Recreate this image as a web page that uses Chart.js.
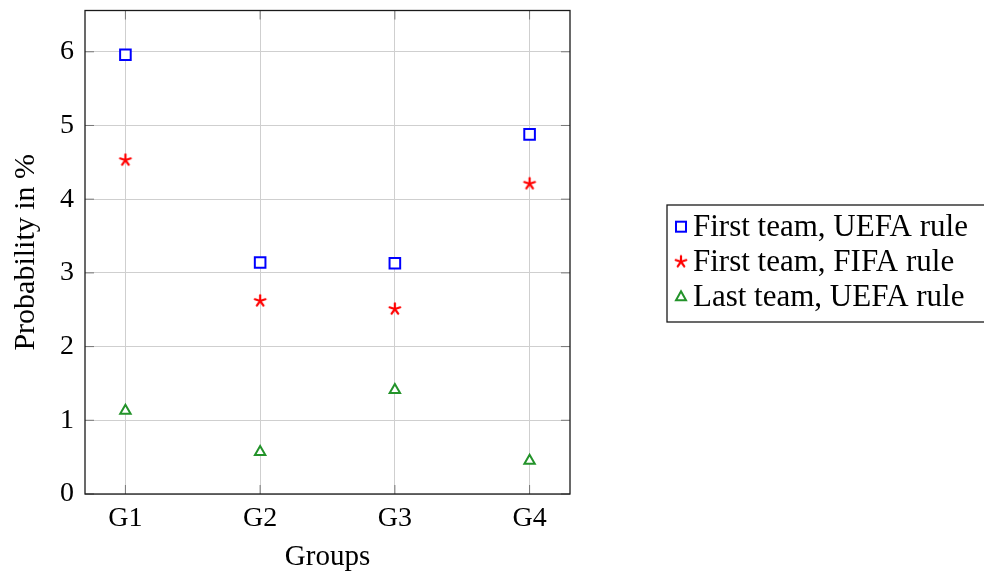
<!DOCTYPE html>
<html>
<head>
<meta charset="utf-8">
<script src="https://cdn.jsdelivr.net/npm/chart.js@4.4.0/dist/chart.umd.min.js"></script>
<style>
  html, body { margin: 0; padding: 0; background: #fff; }
  #wrap { width: 984px; height: 572px; position: relative; }
</style>
</head>
<body>
<div id="wrap"><canvas id="chart"></canvas></div>
<script>
// ---- data ----
const groups = ["G1", "G2", "G3", "G4"];
const xTicks = [1, 2, 3, 4];
const yTicks = [0, 1, 2, 3, 4, 5, 6];
const firstUefa = [5.96, 3.14, 3.13, 4.88];
const firstFifa = [4.53, 2.62, 2.51, 4.21];
const lastUefa = [1.13, 0.57, 1.41, 0.45];
const seriesNames = ["First team, UEFA rule", "First team, FIFA rule", "Last team, UEFA rule"];

const BLUE = "#0000ff";
const RED = "#ff0000";
const GREEN = "#23932a";
const FONT = "'Liberation Serif', 'Times New Roman', serif";

// asterisk with five arms, like the pgfplots star mark
function makeStar(color) {
    const c = document.createElement("canvas");
    c.width = 16; c.height = 16;
    const g = c.getContext("2d");
    g.strokeStyle = color;
    g.lineWidth = 2.2;
    g.lineCap = "round";
    for (let k = 0; k < 5; k++) {
        const a = -Math.PI / 2 + k * 2 * Math.PI / 5;
        g.beginPath();
        g.moveTo(8, 8);
        g.lineTo(8 + Math.cos(a) * 5.6, 8 + Math.sin(a) * 5.6);
        g.stroke();
    }
    return c;
}
const starImg = makeStar(RED);

function toPoints(values) {
    return values.map((v, i) => ({ x: xTicks[i], y: v }));
}

// box round the plot, inward tick marks and the boxed legend
const framePlugin = {
    id: "frame",
    afterDraw(chart) {
        const { ctx, chartArea: a, scales } = chart;
        ctx.save();
        // inward ticks
        ctx.strokeStyle = "#777";
        ctx.lineWidth = 1;
        xTicks.forEach(t => {
            const px = scales.x.getPixelForValue(t);
            ctx.beginPath();
            ctx.moveTo(px, a.bottom); ctx.lineTo(px, a.bottom - 9);
            ctx.moveTo(px, a.top); ctx.lineTo(px, a.top + 9);
            ctx.stroke();
        });
        yTicks.forEach(t => {
            const py = scales.y.getPixelForValue(t);
            ctx.beginPath();
            ctx.moveTo(a.left, py); ctx.lineTo(a.left + 9, py);
            ctx.moveTo(a.right, py); ctx.lineTo(a.right - 9, py);
            ctx.stroke();
        });
        // frame
        ctx.strokeStyle = "#1a1a1a";
        ctx.lineWidth = 1.3;
        ctx.strokeRect(a.left, a.top, a.right - a.left, a.bottom - a.top);

        // legend
        const lx = 667, ly = 205, lh = 117;
        ctx.strokeStyle = "#1a1a1a";
        ctx.lineWidth = 1.3;
        ctx.strokeRect(lx, ly, 400, lh);
        ctx.font = "31px " + FONT;
        ctx.fillStyle = "#000";
        ctx.textBaseline = "middle";
        const rows = [226.7, 261.7, 296.7];
        rows.forEach((ry, i) => {
            const mx = 681;
            if (i === 0) {
                ctx.strokeStyle = BLUE; ctx.lineWidth = 2;
                ctx.fillStyle = "#fff";
                ctx.fillRect(mx - 5, ry - 5, 10, 10);
                ctx.strokeRect(mx - 5, ry - 5, 10, 10);
            } else if (i === 1) {
                ctx.drawImage(starImg, mx - 8, ry - 8);
            } else {
                ctx.strokeStyle = GREEN; ctx.lineWidth = 2;
                ctx.fillStyle = "#fff";
                ctx.beginPath();
                ctx.moveTo(mx, ry - 5.5);
                ctx.lineTo(mx + 5, ry + 3.5);
                ctx.lineTo(mx - 5, ry + 3.5);
                ctx.closePath();
                ctx.fill(); ctx.stroke();
            }
            ctx.fillStyle = "#000";
            ctx.fillText(seriesNames[i], 693, ry + 1);
        });
        ctx.restore();
    }
};

new Chart(document.getElementById("chart"), {
    type: "scatter",
    data: {
        datasets: [
            {
                label: seriesNames[0],
                data: toPoints(firstUefa),
                pointStyle: "rect",
                pointRadius: 7.5,
                pointBorderWidth: 2,
                borderColor: BLUE,
                backgroundColor: "#fff"
            },
            {
                label: seriesNames[1],
                data: toPoints(firstFifa),
                pointStyle: starImg,
                pointRadius: 8,
                borderColor: RED,
                backgroundColor: RED
            },
            {
                label: seriesNames[2],
                data: toPoints(lastUefa),
                pointStyle: "triangle",
                pointRadius: 6,
                pointBorderWidth: 2,
                borderColor: GREEN,
                backgroundColor: "#fff"
            }
        ]
    },
    options: {
        responsive: true,
        maintainAspectRatio: false,
        animation: false,
        layout: { padding: { left: 0, right: 414, top: 10.5, bottom: 0 } },
        plugins: {
            legend: { display: false },
            tooltip: { enabled: false }
        },
        scales: {
            x: {
                type: "linear",
                min: 0.7,
                max: 4.3,
                afterBuildTicks: axis => { axis.ticks = xTicks.map(v => ({ value: v })); },
                afterFit: axis => { axis.height = 78; axis.paddingLeft = 0; axis.paddingRight = 0; },
                grid: { color: "#cfcfcf", lineWidth: 1, drawTicks: false },
                border: { display: false },
                ticks: {
                    padding: 8,
                    color: "#000",
                    font: { family: FONT, size: 28 },
                    callback: v => groups[v - 1]
                },
                title: {
                    display: true,
                    text: "Groups",
                    color: "#000",
                    font: { family: FONT, size: 29, lineHeight: 1.0 },
                    padding: { top: 0, bottom: 0 }
                }
            },
            y: {
                min: 0,
                max: 6.56,
                afterBuildTicks: axis => { axis.ticks = yTicks.map(v => ({ value: v })); },
                afterFit: axis => { axis.width = 85; axis.paddingTop = 0; axis.paddingBottom = 0; },
                grid: { color: "#cfcfcf", lineWidth: 1, drawTicks: false },
                border: { display: false },
                ticks: {
                    padding: 11,
                    color: "#000",
                    font: { family: FONT, size: 28 }
                },
                title: {
                    display: true,
                    text: "Probability in %",
                    color: "#000",
                    font: { family: FONT, size: 30 },
                    padding: { top: 8, bottom: 4 }
                }
            }
        }
    },
    plugins: [framePlugin]
});
</script>
</body>
</html>
